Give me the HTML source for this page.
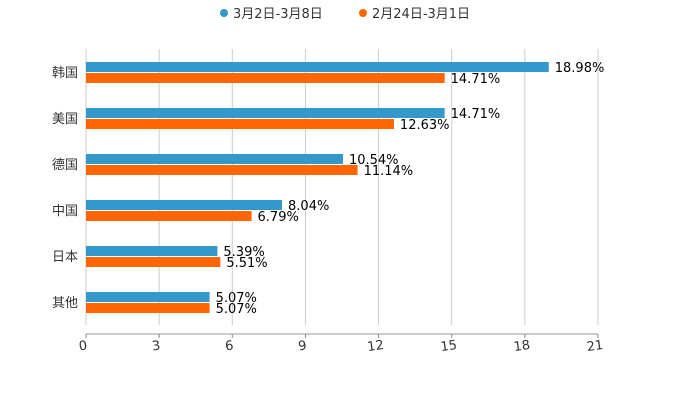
<!DOCTYPE html>
<html><head><meta charset="utf-8"><style>
body{margin:0;background:#fff;}
svg{font-family:"DejaVu Sans","Liberation Sans","Noto Sans CJK SC",sans-serif;}
</style></head><body>
<svg id="c" width="700" height="400" xmlns="http://www.w3.org/2000/svg"></svg>
<script>
const categories=["韩国","美国","德国","中国","日本","其他"];
const seriesA=[18.98,14.71,10.54,8.04,5.39,5.07];
const seriesB=[14.71,12.63,11.14,6.79,5.51,5.07];
const seriesNames=["3月2日-3月8日","2月24日-3月1日"];
const ticks=[0,3,6,9,12,15,18,21];
const colors=["#3399cc","#ff6600"];
const svg=document.getElementById('c');
const NS="http://www.w3.org/2000/svg";
const X0=86,X1=598,Y0=49,Y1=325,xmax=21;
const x=v=>X0+(X1-X0)*v/xmax;
const band=(Y1-Y0)/categories.length;
function mk(t,a,txt){const e=document.createElementNS(NS,t);for(const k in a)e.setAttribute(k,a[k]);if(txt!==undefined)e.textContent=txt;svg.appendChild(e);return e;}
ticks.forEach((t,i)=>{
 const g=mk('line',{x1:x(t),x2:x(t),y1:Y0,y2:Y1,stroke:'#ccc','stroke-width':1});
 
 
 const tk=mk('line',{x1:x(t),x2:x(t),y1:334,y2:338,stroke:'#888'});
 
 
 const l=mk('text',{x:x(t)-3,y:350,'font-size':13,fill:'#333','text-anchor':'middle',transform:`rotate(-8 ${x(t)-3} 346)`},String(t));
 
 
});
const ax=mk('line',{x1:X0,x2:X1,y1:334,y2:334,stroke:'#999'});


categories.forEach((c,i)=>{
 const cy=Y0+band*(i+0.5);
 const l=mk('text',{x:78,y:cy+5,'font-size':13,fill:'#333','text-anchor':'end'},c);
 
 
 [seriesA,seriesB].forEach((s,j)=>{
  const y=cy-10+j*11;
  const r=mk('rect',{x:X0,y:y,width:x(s[i])-X0,height:10,fill:colors[j]});
  
  
  const t=mk('text',{x:x(s[i])+6,y:y+10,'font-size':13,fill:'#000'},s[i].toFixed(2)+'%');
  
  
 });
});
const lx=[224,363];
seriesNames.forEach((n,j)=>{
 const d=mk('circle',{cx:lx[j],cy:13,r:4,fill:colors[j]});
 
 
 const t=mk('text',{x:lx[j]+9,y:18,'font-size':13,fill:'#333'},n);
 
 
});
</script>
</body></html>
